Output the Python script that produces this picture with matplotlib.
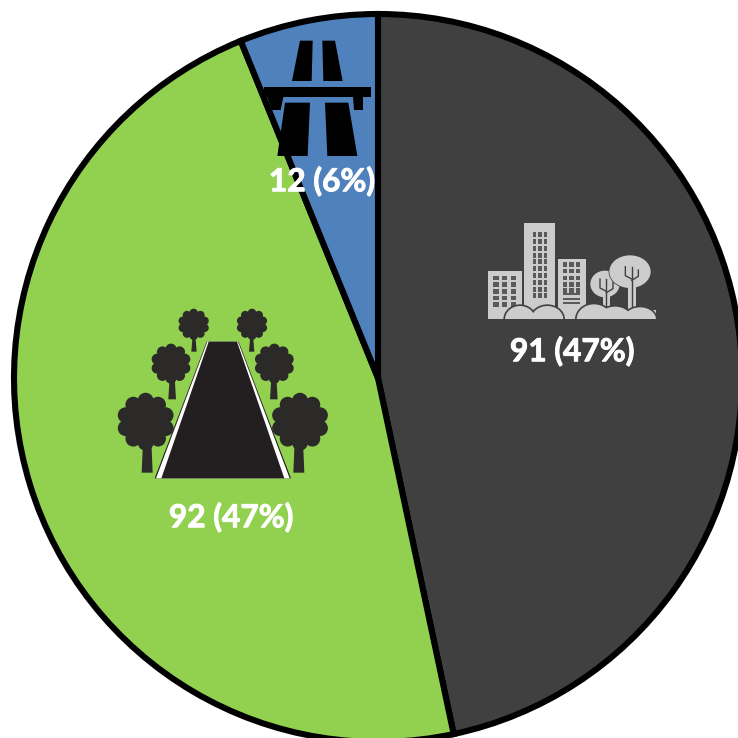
import numpy as np
import matplotlib
matplotlib.use("Agg")
import matplotlib.pyplot as plt
import matplotlib.patheffects as pe
from matplotlib.patches import Polygon, Rectangle, Ellipse, Circle

# slices, clockwise from the top
labels = ["urban", "rural", "motorway"]
values = [91, 92, 12]
colors = ["#404040", "#92D050", "#4F81BD"]
label_pos = [(572, 351), (231, 517), (322, 181)]

CITY = "#CCCCCC"
DARK = "#404040"
TREE = "#2B2A28"
ROAD = "#231F20"

fig = plt.figure(figsize=(7.38, 7.38), dpi=100)
ax = fig.add_axes([0, 0, 1, 1])

# y axis is flipped below, so counterclock=True comes out clockwise on screen
ax.pie(values, colors=colors, startangle=-90, counterclock=True,
       center=(378, 378), radius=364, frame=True,
       wedgeprops={"edgecolor": "black", "linewidth": 4.4, "joinstyle": "miter", "clip_on": True})
ax.set_xlim(0, 738)
ax.set_ylim(738, 0)  # pixel coordinates, y down
ax.set_aspect("equal")
ax.axis("off")


def poly(pts, ox, oy, color, z=3):
    pts = [(ox + x / 3, oy + y / 3) for x, y in pts]
    ax.add_patch(Polygon(pts, closed=True, fc=color, ec="none", zorder=z))


def rect(x0, y0, x1, y1, ox, oy, color, z=3):
    ax.add_patch(Rectangle((ox + x0 / 3, oy + y0 / 3), (x1 - x0) / 3, (y1 - y0) / 3,
                           fc=color, ec="none", zorder=z))


# motorway icon
ox, oy = 230, 0
poly([(210, 122), (248, 122), (245, 243), (186, 243)], ox, oy, "black")
poly([(277, 122), (315, 122), (338, 243), (280, 243)], ox, oy, "black")
rect(103, 262, 423, 291, ox, oy, "black")
poly([(112, 291), (160, 291), (152, 330), (125, 330)], ox, oy, "black")
poly([(370, 291), (400, 291), (400, 330), (372, 330)], ox, oy, "black")
poly([(165, 308), (240, 308), (233, 468), (142, 468)], ox, oy, "black")
poly([(285, 308), (355, 308), (382, 468), (292, 468)], ox, oy, "black")

# city icon
ox, oy = 470, 210
rect(55, 183, 155, 328, ox, oy, CITY)
rect(163, 40, 255, 328, ox, oy, CITY)
rect(263, 146, 347, 328, ox, oy, CITY)
rect(55, 300, 558, 328, ox, oy, CITY)


def windows(xs, ys, w, h):
    for x in xs:
        for y in ys:
            rect(x, y, x + w, y + h, ox, oy, "#5A5A5A", z=4)


windows([70, 96, 122], [197, 217, 237, 257, 277], 16, 14)
windows([188, 205, 221], np.linspace(67, 250, 10), 10, 15)
windows([279, 298, 317], [157, 177, 197, 217, 235], 13, 13)
for y in [250, 263, 276]:
    rect(279, y, 331, y + 6, ox, oy, "#5A5A5A", z=4)

# city trees
for cx, cy, rx, ry, tx in [(405, 222, 44, 40, 398), (480, 185, 62, 49, 474)]:
    ax.add_patch(Ellipse((ox + cx / 3, oy + cy / 3), 2 * rx / 3 + 1.5, 2 * ry / 3 + 1.5,
                         fc=DARK, ec="none", zorder=4))
    ax.add_patch(Ellipse((ox + cx / 3, oy + cy / 3), 2 * rx / 3, 2 * ry / 3,
                         fc=CITY, ec="none", zorder=4))
    rect(tx, cy + 10, tx + 23, 300, ox, oy, CITY, z=4)
    ax.plot([ox + (tx + 11) / 3] * 2, [oy + (cy - 15) / 3, oy + 295 / 3], color=DARK, lw=1.0, zorder=5)
    ax.plot([ox + (tx - 8) / 3, ox + (tx - 8) / 3, ox + (tx + 11) / 3],
            [oy + (cy - 15) / 3, oy + (cy + 12) / 3, oy + (cy + 22) / 3], color=DARK, lw=1.0, zorder=5)
    ax.plot([ox + (tx + 31) / 3, ox + (tx + 31) / 3, ox + (tx + 11) / 3],
            [oy + (cy - 5) / 3, oy + (cy + 14) / 3, oy + (cy + 26) / 3], color=DARK, lw=1.0, zorder=5)

# bushes, cut flat along the base of the icon
base = Rectangle((ox, oy), 200, 328 / 3, transform=ax.transData)
for pad, col, z in [(5, DARK, 6), (0, CITY, 7)]:
    for cx, cy, rx, ry in [(150, 328, 45, 40), (232, 328, 48, 40),
                           (372, 328, 52, 45), (435, 328, 50, 38), (510, 328, 48, 36)]:
        e = Ellipse((ox + cx / 3, oy + cy / 3), 2 * (rx + pad) / 3, 2 * (ry + pad) / 3,
                    fc=col, ec="none", zorder=z)
        ax.add_patch(e)
        e.set_clip_path(base)

# rural icon
ox, oy = 100, 295


def tree(cx, cy, r, t0, t1, bottom):
    # crown is a ring of lobes around one big circle
    ang = np.deg2rad(np.arange(0, 360, 36) + 18)
    ax.add_patch(Circle((ox + cx / 3, oy + cy / 3), r * 0.8 / 3, fc=TREE, ec="none", zorder=3))
    for a in ang:
        ax.add_patch(Circle((ox + (cx + 0.74 * r * np.cos(a)) / 3, oy + (cy + 0.74 * r * np.sin(a)) / 3),
                            r * 0.28 / 3, fc=TREE, ec="none", zorder=3))
    top = cy + r * 0.7
    poly([(t0 + 4, top), (t1 - 4, top), (t1, bottom), (t0, bottom)], ox, oy, TREE)


tree(137, 380, 85, 125, 158, 533)
tree(213, 206, 59, 205, 228, 313)
tree(281, 88, 46, 274, 290, 170)
tree(600, 380, 85, 580, 613, 533)
tree(523, 206, 59, 510, 533, 313)
tree(456, 88, 46, 447, 463, 170)

poly([(320, 140), (416, 140), (573, 550), (164, 550)], ox, oy, ROAD, z=4)
poly([(322, 140), (414, 140), (569, 550), (168, 550)], ox, oy, "white", z=4)
poly([(326, 140), (411, 140), (553, 550), (184, 550)], ox, oy, ROAD, z=4)

# value labels
total = sum(values)
for v, (x, y) in zip(values, label_pos):
    t = ax.text(x, y, f"{v} ({v / total * 100:.0f}%)", color="white", fontsize=22.8,
                fontweight="bold", family="Lato", ha="center", va="center", zorder=10)
    t.set_path_effects([pe.withStroke(linewidth=0.7, foreground="white")])

fig.savefig("out.png", dpi=100, facecolor="white")
